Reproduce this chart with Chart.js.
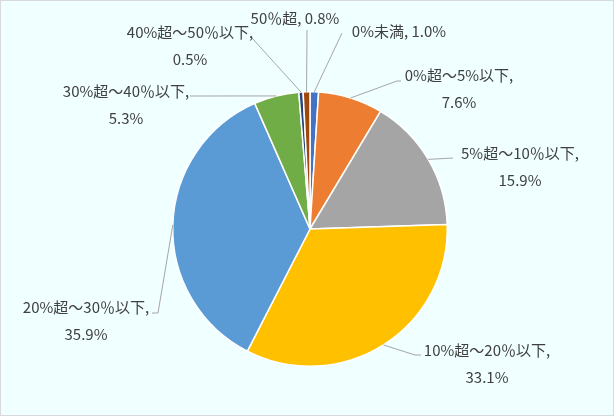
<!DOCTYPE html>
<html>
<head>
<meta charset="utf-8">
<script src="https://cdn.jsdelivr.net/npm/chart.js@4/dist/chart.umd.min.js"></script>
<style>
  body { margin: 0; background: #ffffff; }
  #wrap { width: 614px; height: 416px; }
</style>
</head>
<body>
<div id="wrap"><canvas id="pieChart" width="614" height="416"></canvas></div>
<script>
// categories and shares (%)
const categories = ["0%未満", "0%超～5%以下", "5%超～10%以下", "10%超～20%以下", "20%超～30%以下", "30%超～40％以下", "40%超～50％以下", "50％超"];
const labelNames = ["0%未満", "0%超～5%以下", "5%超～10％以下", "10%超～20％以下", "20%超～30％以下", "30%超～40％以下", "40%超～50％以下", "50％超"];
const shares = [1.0, 7.6, 15.9, 33.1, 35.9, 5.3, 0.5, 0.8];
const sliceColors = ["#4472C4", "#ED7D31", "#A5A5A5", "#FFC000", "#5B9BD5", "#70AD47", "#264478", "#9E480E"];

// where each label sits: text centre, leader end point, one or two lines
const labelLayout = [
  { tx: 399, ty: 31, lx: 342, ly: 33, oneLine: true },
  { tx: 459, ty: 75, lx: 397, ly: 81, elbow: 401 },
  { tx: 520, ty: 153, lx: 453, ly: 158 },
  { tx: 487, ty: 350, lx: 415, ly: 355, elbow: 421 },
  { tx: 86, ty: 307, lx: 158, ly: 313, elbow: 152 },
  { tx: 126, ty: 91, lx: 190, ly: 96 },
  { tx: 190, ty: 32, lx: 252, ly: 38 },
  { tx: 295, ty: 18, lx: 307, ly: 30, oneLine: true }
];

const FONT = '15px "Noto Sans CJK JP", "Noto Sans", sans-serif';

// background + border
const backgroundPlugin = {
  id: "backgroundPlugin",
  beforeDraw(chart) {
    const ctx = chart.ctx;
    ctx.save();
    ctx.fillStyle = "#F0FFFF";
    ctx.fillRect(0, 0, chart.width, chart.height);
    ctx.strokeStyle = "#D9D9D9";
    ctx.lineWidth = 1;
    ctx.strokeRect(0.5, 0.5, chart.width - 1, chart.height - 1);
    ctx.restore();
  }
};

// labels with leader lines
const leaderLabels = {
  id: "leaderLabels",
  afterDatasetsDraw(chart) {
    const ctx = chart.ctx;
    const meta = chart.getDatasetMeta(0);
    ctx.save();
    ctx.font = FONT;
    ctx.textAlign = "center";
    ctx.textBaseline = "middle";
    meta.data.forEach((arc, i) => {
      const p = arc.getProps(["x", "y", "startAngle", "endAngle", "outerRadius"], true);
      const mid = (p.startAngle + p.endAngle) / 2;
      const ax = p.x + Math.cos(mid) * p.outerRadius;
      const ay = p.y + Math.sin(mid) * p.outerRadius;
      const lay = labelLayout[i];

      ctx.strokeStyle = "#A6A6A6";
      ctx.lineWidth = 1;
      ctx.beginPath();
      ctx.moveTo(ax, ay);
      ctx.lineTo(lay.lx, lay.ly);
      if (lay.elbow) ctx.lineTo(lay.elbow, lay.ly);
      ctx.stroke();

      ctx.fillStyle = "#404040";
      const val = shares[i].toFixed(1) + "%";
      if (lay.oneLine) {
        ctx.fillText(labelNames[i] + ", " + val, lay.tx, lay.ty);
      } else {
        ctx.fillText(labelNames[i] + ",", lay.tx, lay.ty);
        ctx.fillText(val, lay.tx, lay.ty + 27);
      }
    });
    ctx.restore();
  }
};

new Chart(document.getElementById("pieChart"), {
  type: "pie",
  data: {
    labels: categories,
    datasets: [{
      data: shares,
      backgroundColor: sliceColors,
      borderColor: "#FFFFFF",
      borderWidth: 1.5
    }]
  },
  options: {
    responsive: false,
    animation: false,
    devicePixelRatio: 1,
    layout: { padding: { left: 172, right: 166, top: 91, bottom: 49 } },
    plugins: {
      legend: { display: false },
      tooltip: { enabled: false }
    }
  },
  plugins: [backgroundPlugin, leaderLabels]
});
</script>
</body>
</html>
